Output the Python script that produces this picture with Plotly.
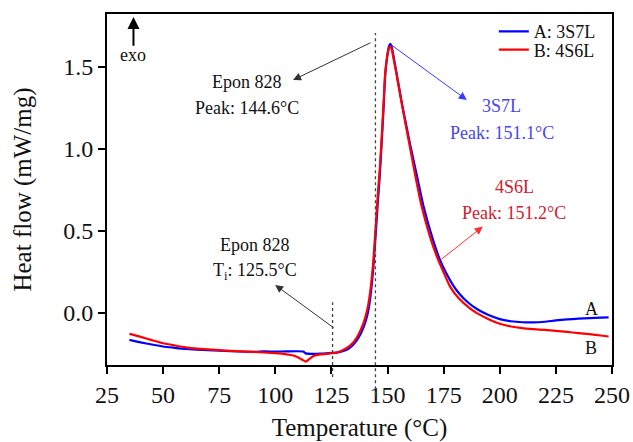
import plotly.graph_objects as go

# DSC heat-flow curves (exo up)
temp_a = [35, 40, 45, 50, 55, 60, 70, 80, 90, 95, 100, 105, 110, 112.5, 113.5, 116, 120,
          125, 128, 131, 133, 135, 137, 139.3, 141, 142.2, 143.7, 145.7, 146.5, 147.4, 148.3,
          149, 150, 150.6, 151.1, 151.7, 152.6, 153.9, 156.5, 160, 163.3, 166, 169.8,
          173.4, 176, 179.3, 182, 186, 190, 195, 200, 205, 210, 215, 220, 225, 230, 235,
          240, 245, 248.5]
flow_a = [-0.167, -0.182, -0.195, -0.207, -0.215, -0.222, -0.230, -0.236, -0.240, -0.237,
          -0.238, -0.237, -0.236, -0.238, -0.249, -0.252, -0.251, -0.246, -0.243, -0.232,
          -0.217, -0.192, -0.155, -0.090, -0.015, 0.080, 0.280, 0.680, 0.830, 1.040, 1.270,
          1.460, 1.580, 1.625, 1.640, 1.630, 1.570, 1.470, 1.270, 1.030, 0.822, 0.650,
          0.464, 0.320, 0.245, 0.165, 0.115, 0.060, 0.020, -0.015, -0.040, -0.053, -0.059,
          -0.060, -0.056, -0.048, -0.042, -0.037, -0.034, -0.031, -0.029]

temp_b = [35, 40, 45, 50, 55, 60, 70, 80, 90, 100, 105, 108, 110, 112, 113.6, 115, 117,
          120, 124, 127, 130, 133, 135, 137, 139.3, 141, 142.2, 143.7, 145.7, 146.4, 147.3,
          148.2, 148.9, 149.9, 150.6, 151.2, 151.8, 152.6, 153.8, 156.4, 159.5, 162.6,
          165, 168.9, 172.6, 175, 177.8, 181.5, 186.7, 190, 195, 200, 205, 210, 215, 220,
          225, 230, 235, 240, 245, 248.5]
flow_b = [-0.130, -0.148, -0.168, -0.187, -0.200, -0.212, -0.225, -0.234, -0.240, -0.248,
          -0.255, -0.262, -0.272, -0.288, -0.299, -0.285, -0.265, -0.255, -0.250, -0.245,
          -0.230, -0.205, -0.178, -0.135, -0.063, 0.020, 0.120, 0.320, 0.730, 0.850, 1.050,
          1.270, 1.450, 1.570, 1.612, 1.625, 1.612, 1.555, 1.470, 1.270, 1.045, 0.820,
          0.660, 0.464, 0.320, 0.245, 0.160, 0.090, 0.025, -0.005, -0.040, -0.068, -0.085,
          -0.095, -0.101, -0.106, -0.112, -0.118, -0.125, -0.132, -0.140, -0.146]

series_names = ["A: 3S7L", "B: 4S6L"]
x_ticks = [25, 50, 75, 100, 125, 150, 175, 200, 225, 250]
y_ticks = [0.0, 0.5, 1.0, 1.5]
y_ticktext = ["0.0", "0.5", "1.0", "1.5"]

# reference temperatures of neat Epon 828
epon_onset = 125.5
epon_peak = 144.6
peak_a = (151.1, 1.640)
peak_b = (151.2, 1.625)

FONT = "Liberation Serif"
BLUE = "#0000ff"
RED = "#ff0000"
BLUE_TXT = "#4646f0"
RED_TXT = "#d0202e"

fig = go.Figure()
fig.add_trace(go.Scatter(x=temp_a, y=flow_a, mode="lines", name=series_names[0],
                         line=dict(color=BLUE, width=2.2, shape="spline", smoothing=0.5),
                         showlegend=True, legend="legend"))
fig.add_trace(go.Scatter(x=temp_b, y=flow_b, mode="lines", name=series_names[1],
                         line=dict(color=RED, width=2.2, shape="spline", smoothing=0.5),
                         showlegend=True, legend="legend2"))

# dotted markers at the Epon 828 onset and peak temperatures
fig.add_shape(type="line", xref="x", yref="paper", x0=epon_peak, x1=epon_peak,
              y0=-0.086, y1=0.946, line=dict(color="#444", width=1.3, dash="dot"))
fig.add_shape(type="line", xref="x", yref="paper", x0=epon_onset, x1=epon_onset,
              y0=-0.034, y1=0.179, line=dict(color="#444", width=1.3, dash="dot"))


def label(x, y, text, color="#111", size=18):
    fig.add_annotation(x=x, y=y, xref="x", yref="y", text=text, showarrow=False,
                       font=dict(family=FONT, size=size, color=color),
                       xanchor="center", yanchor="middle")


def arrow(x_head, y_head, x_tail, y_tail, color, width=1.0, size=1.6):
    fig.add_annotation(x=x_head, y=y_head, ax=x_tail, ay=y_tail, xref="x", yref="y",
                       axref="x", ayref="y", text="", showarrow=True, arrowhead=2,
                       arrowsize=size, arrowwidth=width, arrowcolor=color, standoff=0,
                       startstandoff=0)


# exo direction marker
arrow(36.8, 1.804, 36.8, 1.62, "#000", width=2, size=1.2)
label(36.8, 1.572, "exo")

# Epon 828 peak
arrow(107.9, 1.42, 143.1, 1.652, "#333")
label(87.3, 1.409, "Epon 828")
label(87.3, 1.247, "Peak: 144.6°C")

# Epon 828 onset
arrow(99.9, 0.169, 126.6, -0.099, "#333")
label(91.0, 0.413, "Epon 828")
label(91.0, 0.250, "T<sub>i</sub>: 125.5°C")

# 3S7L peak
arrow(185.3, 1.298, peak_a[0], peak_a[1], "#3a3aff")
label(200.9, 1.260, "3S7L", BLUE_TXT)
label(201.2, 1.098, "Peak: 151.1°C", BLUE_TXT)

# 4S6L peak
arrow(192.4, 0.525, 173.4, 0.319, "#ff3030")
label(206.4, 0.765, "4S6L", RED_TXT)
label(206.2, 0.610, "Peak: 151.2°C", RED_TXT)

# curve tags
label(241.0, 0.021, "A", "#111")
label(240.6, -0.217, "B", "#111")

axis_common = dict(showline=True, linewidth=2, linecolor="#000", mirror=True,
                   ticks="outside", ticklen=7, tickwidth=1.5, tickcolor="#000",
                   showgrid=False, zeroline=False, automargin=False,
                   tickfont=dict(family=FONT, size=24, color="#111"))

legend_common = dict(font=dict(family=FONT, size=18, color="#111"),
                     bgcolor="rgba(0,0,0,0)", borderwidth=0, xanchor="left",
                     yanchor="middle", itemwidth=30, visible=True)

fig.update_layout(
    width=633, height=442,
    margin=dict(l=107, r=21, t=14, b=77),
    paper_bgcolor="white", plot_bgcolor="white",
    showlegend=True,
    font=dict(family=FONT, color="#111"),
    xaxis=dict(range=[25, 250], tickvals=x_ticks,
               title=dict(text="Temperature (°C)", font=dict(family=FONT, size=25, color="#111"),
                          standoff=19),
               **axis_common),
    yaxis=dict(range=[-0.32, 1.823], tickvals=y_ticks, ticktext=y_ticktext,
               title=dict(text="Heat flow (mW/mg)", font=dict(family=FONT, size=25, color="#111"),
                          standoff=24),
               **axis_common),
    legend=dict(x=0.766, y=0.9496, **legend_common),
    legend2=dict(x=0.766, y=0.8974, **legend_common),
)

fig.write_html("out.html")
